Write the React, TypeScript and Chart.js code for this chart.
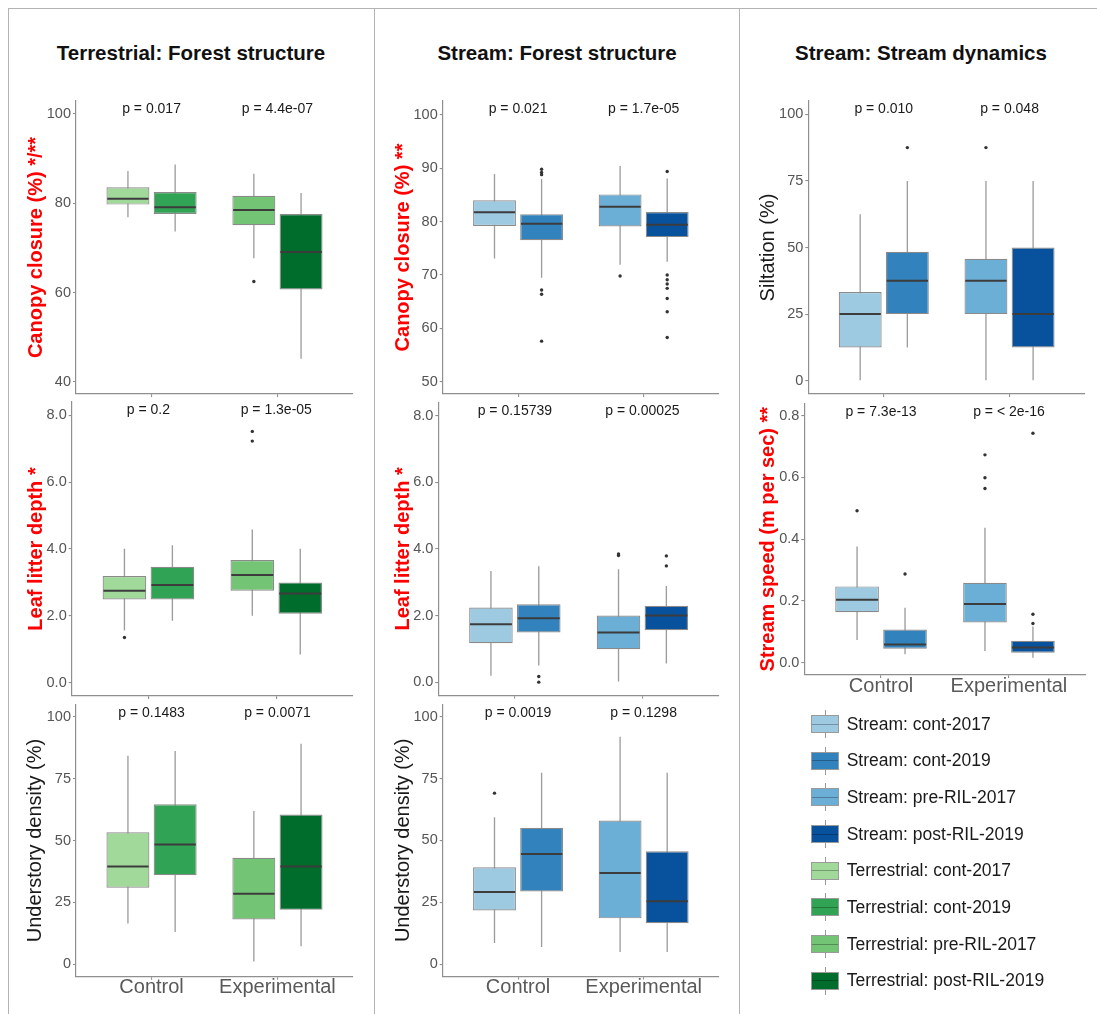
import React, { useEffect, useRef } from 'react';
import { Chart, registerables } from 'chart.js';

Chart.register(...registerables);

const FONT = '"Liberation Sans", Arial, Helvetica, sans-serif';
Chart.defaults.font.family = FONT;

// ---------------- DATA ----------------
const categories = ['Control', 'Experimental'];

// each row: [lower whisker, Q1, median, Q3, upper whisker] per category
const terrCanopyFirst = [[76.9, 79.7, 81.0, 83.6, 87.2], [67.7, 75.1, 78.5, 81.7, 86.6]];
const terrCanopySecond = [[73.7, 77.6, 79.1, 82.5, 88.7], [45.2, 60.7, 69.1, 77.6, 82.3]];
const terrCanopyFirstOut = [[], [62.5]];
const terrCanopySecondOut = [[], []];
const terrCanopyP = ['p = 0.017', 'p = 4.4e-07'];

const terrLitterFirst = [[1.56, 2.49, 2.75, 3.19, 4.01], [2.0, 2.75, 3.22, 3.67, 4.58]];
const terrLitterSecond = [[1.85, 2.49, 2.92, 3.47, 4.11], [0.84, 2.06, 2.67, 3.0, 4.01]];
const terrLitterFirstOut = [[1.35], [7.52, 7.23]];
const terrLitterSecondOut = [[], []];
const terrLitterP = ['p = 0.2', 'p = 1.3e-05'];

const terrUnderFirst = [[16.5, 30.9, 39.5, 53.3, 84.2], [1.1, 18.1, 28.5, 43.0, 61.9]];
const terrUnderSecond = [[13.1, 36.0, 48.4, 64.6, 86.1], [7.3, 22.0, 39.5, 60.5, 89.1]];
const terrUnderFirstOut = [[], []];
const terrUnderSecondOut = [[], []];
const terrUnderP = ['p = 0.1483', 'p = 0.0071'];

const streamCanopyFirst = [[73.1, 79.2, 81.75, 84.0, 88.9], [71.9, 79.1, 82.8, 85.1, 90.4]];
const streamCanopySecond = [[69.5, 76.5, 79.6, 81.4, 88.0], [72.5, 77.1, 79.4, 81.8, 88.1]];
const streamCanopyFirstOut = [[], [69.8]];
const streamCanopySecondOut = [[89.8, 89.2, 88.8, 67.2, 66.4, 57.6], [89.4, 70.0, 69.1, 68.3, 67.5, 65.6, 63.1, 58.3]];
const streamCanopyP = ['p = 0.021', 'p = 1.7e-05'];

const streamLitterFirst = [[0.19, 1.17, 1.74, 2.24, 3.34], [0.0, 0.99, 1.49, 2.0, 3.39]];
const streamLitterSecond = [[0.5, 1.49, 1.92, 2.34, 3.48], [0.56, 1.56, 2.0, 2.29, 2.89]];
const streamLitterFirstOut = [[], [3.85, 3.8]];
const streamLitterSecondOut = [[0.17, 0.0], [3.79, 3.49]];
const streamLitterP = ['p = 0.15739', 'p = 0.00025'];

const streamUnderFirst = [[8.5, 21.7, 29.1, 39.1, 59.4], [4.9, 18.5, 36.8, 58.0, 91.9]];
const streamUnderSecond = [[6.9, 29.4, 44.5, 55.1, 77.3], [4.9, 16.5, 25.4, 45.6, 77.3]];
const streamUnderFirstOut = [[69.1], []];
const streamUnderSecondOut = [[], []];
const streamUnderP = ['p = 0.0019', 'p = 0.1298'];

const siltFirst = [[0, 12.5, 25, 33.3, 62.5], [0, 25, 37.5, 45.8, 75]];
const siltSecond = [[12.5, 25, 37.5, 48.4, 75], [0, 12.5, 25, 50, 75]];
const siltFirstOut = [[], [87.5]];
const siltSecondOut = [[87.5], []];
const siltP = ['p = 0.010', 'p = 0.048'];

const speedFirst = [[0.073, 0.163, 0.204, 0.247, 0.376], [0.038, 0.13, 0.19, 0.259, 0.437]];
const speedSecond = [[0.027, 0.045, 0.059, 0.107, 0.178], [0.016, 0.032, 0.049, 0.071, 0.117]];
const speedFirstOut = [[0.492], [0.673, 0.599, 0.564]];
const speedSecondOut = [[0.287], [0.157, 0.127, 0.743]];
const speedP = ['p = 7.3e-13', 'p = < 2e-16'];

const ticksCanopyTerr = [40, 60, 80, 100];
const ticksCanopyStream = [50, 60, 70, 80, 90, 100];
const ticksLitter = [0, 2, 4, 6, 8];
const ticksPercent = [0, 25, 50, 75, 100];
const ticksSpeed = [0, 0.2, 0.4, 0.6, 0.8];

const terrColorsFirst = ['#a1d99b', '#74c476'];
const terrColorsSecond = ['#31a354', '#006d2c'];
const streamColorsFirst = ['#9ecae1', '#6baed6'];
const streamColorsSecond = ['#3182bd', '#08519c'];

const sectionTitles = ['Terrestrial: Forest structure', 'Stream: Forest structure', 'Stream: Stream dynamics'];

const legendLabels = [
  'Stream: cont-2017', 'Stream: cont-2019', 'Stream: pre-RIL-2017', 'Stream: post-RIL-2019',
  'Terrestrial: cont-2017', 'Terrestrial: cont-2019', 'Terrestrial: pre-RIL-2017', 'Terrestrial: post-RIL-2019',
];
const legendColors = ['#9ecae1', '#3182bd', '#6baed6', '#08519c', '#a1d99b', '#31a354', '#74c476', '#006d2c'];

// ---------------- STYLE ----------------
const CAT_PCT = 0.75;
const BOX_PCT = 0.91;
const WHISK_PCT = 0.028;
const DODGE = CAT_PCT / 4;
const AXIS = '#8f8f8f';
const BOX_BORDER = '#8a8a8a';
const WHISKER = '#9c9c9c';
const MEDIAN = '#3c3c3c';
const TICK_TXT = '#555555';

type Panel = {
  first: number[][]; second: number[][]; firstOut: number[][]; secondOut: number[][];
  cFirst: string[]; cSecond: string[]; pLabels: string[]; yTicks: number[]; dec: number;
  yMin: number; yMax: number; title: string; red: boolean; showX: boolean;
  rect: { left: number; right: number; top: number; bottom: number }; titleX: number;
};

const panels: Panel[] = [
  { first: terrCanopyFirst, second: terrCanopySecond, firstOut: terrCanopyFirstOut, secondOut: terrCanopySecondOut,
    cFirst: terrColorsFirst, cSecond: terrColorsSecond, pLabels: terrCanopyP, yTicks: ticksCanopyTerr, dec: 0,
    yMin: 37.3, yMax: 102.9, title: 'Canopy closure (%) */**', red: true, showX: false,
    rect: { left: 76, right: 353, top: 101, bottom: 394 }, titleX: 36 },
  { first: terrLitterFirst, second: terrLitterSecond, firstOut: terrLitterFirstOut, secondOut: terrLitterSecondOut,
    cFirst: terrColorsFirst, cSecond: terrColorsSecond, pLabels: terrLitterP, yTicks: ticksLitter, dec: 1,
    yMin: -0.4, yMax: 8.4, title: 'Leaf litter depth *', red: true, showX: false,
    rect: { left: 71.7, right: 353, top: 402, bottom: 696 }, titleX: 36 },
  { first: terrUnderFirst, second: terrUnderSecond, firstOut: terrUnderFirstOut, secondOut: terrUnderSecondOut,
    cFirst: terrColorsFirst, cSecond: terrColorsSecond, pLabels: terrUnderP, yTicks: ticksPercent, dec: 0,
    yMin: -5, yMax: 105, title: 'Understory density (%)', red: false, showX: true,
    rect: { left: 76, right: 353, top: 704.3, bottom: 976.7 }, titleX: 35 },
  { first: streamCanopyFirst, second: streamCanopySecond, firstOut: streamCanopyFirstOut, secondOut: streamCanopySecondOut,
    cFirst: streamColorsFirst, cSecond: streamColorsSecond, pLabels: streamCanopyP, yTicks: ticksCanopyStream, dec: 0,
    yMin: 47.7, yMax: 102.6, title: 'Canopy closure (%) **', red: true, showX: false,
    rect: { left: 442.7, right: 719, top: 101, bottom: 394 }, titleX: 403 },
  { first: streamLitterFirst, second: streamLitterSecond, firstOut: streamLitterFirstOut, secondOut: streamLitterSecondOut,
    cFirst: streamColorsFirst, cSecond: streamColorsSecond, pLabels: streamLitterP, yTicks: ticksLitter, dec: 1,
    yMin: -0.4, yMax: 8.4, title: 'Leaf litter depth *', red: true, showX: false,
    rect: { left: 438.3, right: 719, top: 402.3, bottom: 695.5 }, titleX: 403 },
  { first: streamUnderFirst, second: streamUnderSecond, firstOut: streamUnderFirstOut, secondOut: streamUnderSecondOut,
    cFirst: streamColorsFirst, cSecond: streamColorsSecond, pLabels: streamUnderP, yTicks: ticksPercent, dec: 0,
    yMin: -5, yMax: 105, title: 'Understory density (%)', red: false, showX: true,
    rect: { left: 442.7, right: 719, top: 704.3, bottom: 976.5 }, titleX: 403 },
  { first: siltFirst, second: siltSecond, firstOut: siltFirstOut, secondOut: siltSecondOut,
    cFirst: streamColorsFirst, cSecond: streamColorsSecond, pLabels: siltP, yTicks: ticksPercent, dec: 0,
    yMin: -5, yMax: 105, title: 'Siltation (%)', red: false, showX: false,
    rect: { left: 808.3, right: 1085, top: 101, bottom: 394 }, titleX: 768 },
  { first: speedFirst, second: speedSecond, firstOut: speedFirstOut, secondOut: speedSecondOut,
    cFirst: streamColorsFirst, cSecond: streamColorsSecond, pLabels: speedP, yTicks: ticksSpeed, dec: 1,
    yMin: -0.04, yMax: 0.84, title: 'Stream speed (m per sec) **', red: true, showX: true,
    rect: { left: 804.3, right: 1085.7, top: 403.3, bottom: 675 }, titleX: 768 },
];

// ---------------- PLUGIN: medians + p-values ----------------
const boxExtras = {
  id: 'boxExtras',
  afterDatasetsDraw(chart: any) {
    const ctx = chart.ctx;
    const y = chart.scales.y;
    ctx.save();
    ctx.strokeStyle = MEDIAN;
    ctx.lineWidth = 2;
    chart.data.datasets.forEach((ds: any, di: number) => {
      if (!ds.medians) return;
      const meta = chart.getDatasetMeta(di);
      meta.data.forEach((el: any, i: number) => {
        const { x, width } = el.getProps(['x', 'width'], true);
        const py = y.getPixelForValue(ds.medians[i]);
        ctx.beginPath();
        ctx.moveTo(x - width / 2 + 0.8, py);
        ctx.lineTo(x + width / 2 - 0.8, py);
        ctx.stroke();
      });
    });
    ctx.restore();
  },
  afterDraw(chart: any, _args: any, opts: any) {
    const ctx = chart.ctx;
    const xs = chart.scales.x;
    ctx.save();
    ctx.font = `14px ${FONT}`;
    ctx.fillStyle = '#1a1a1a';
    ctx.textAlign = 'center';
    ctx.textBaseline = 'middle';
    (opts.pLabels || []).forEach((t: string, i: number) => {
      ctx.fillText(t, xs.getPixelForValue(i + 1), chart.chartArea.top + 8.5);
    });
    ctx.restore();
  },
};

function geometry(p: Panel) {
  const H = p.showX ? 30 : 12;
  const cl = Math.floor(p.titleX - 20);
  const padLeft = p.titleX - 16 - cl;
  const W = p.rect.left - cl - padLeft;
  const top = Math.floor(p.rect.top - 12);
  const padTop = p.rect.top - top;
  const width = Math.ceil(p.rect.right + 4 - cl);
  const padRight = width - (p.rect.right - cl);
  const height = Math.ceil(p.rect.bottom - top + H + 2);
  const padBottom = height - (p.rect.bottom - top) - H;
  return { H, cl, padLeft, W, top, padTop, width, padRight, height, padBottom };
}

function BoxPanel({ p }: { p: Panel }) {
  const ref = useRef<HTMLCanvasElement>(null);
  const g = geometry(p);
  useEffect(() => {
    const boxSet = (rows: number[][], colors: string[], stack: string) => ({
      type: 'bar' as const,
      data: rows.map((r, i) => ({ x: i + 1, y: [r[1], r[3]] })),
      medians: rows.map((r) => r[2]),
      backgroundColor: colors,
      borderColor: BOX_BORDER,
      borderWidth: 1.2,
      borderSkipped: false,
      inflateAmount: 0,
      stack,
      order: 1,
      categoryPercentage: CAT_PCT,
      barPercentage: BOX_PCT,
    });
    const whiskSet = (rows: number[][], stack: string) => ({
      type: 'bar' as const,
      data: rows.map((r, i) => ({ x: i + 1, y: [r[0], r[4]] })),
      backgroundColor: WHISKER,
      borderWidth: 0,
      inflateAmount: 0,
      stack,
      order: 2,
      categoryPercentage: CAT_PCT,
      barPercentage: WHISK_PCT,
    });
    const outSet = (outs: number[][], shift: number) => ({
      type: 'scatter' as const,
      data: outs.flatMap((vals, i) => vals.map((v) => ({ x: i + 1 + shift, y: v }))),
      pointRadius: 1.7,
      pointBackgroundColor: '#333333',
      pointBorderWidth: 0,
      order: 0,
    });
    const gridOpts = {
      display: true, offset: false, drawOnChartArea: false, drawTicks: true,
      tickLength: 3, color: AXIS, tickColor: AXIS, lineWidth: 1.1,
    };
    const chart = new Chart(ref.current as HTMLCanvasElement, {
      type: 'bar',
      data: {
        datasets: [
          boxSet(p.first, p.cFirst, 'a'),
          boxSet(p.second, p.cSecond, 'b'),
          whiskSet(p.first, 'a'),
          whiskSet(p.second, 'b'),
          outSet(p.firstOut, -DODGE),
          outSet(p.secondOut, DODGE),
        ] as any,
      },
      options: {
        responsive: false,
        animation: false,
        devicePixelRatio: 1,
        events: [],
        layout: { padding: { left: g.padLeft, right: g.padRight, top: g.padTop, bottom: g.padBottom } },
        plugins: {
          legend: { display: false },
          tooltip: { enabled: false },
          boxExtras: { pLabels: p.pLabels },
        } as any,
        scales: {
          x: {
            type: 'linear',
            min: 0.4,
            max: 2.6,
            offset: false,
            grid: gridOpts,
            border: { display: true, color: AXIS, width: 1.2 },
            ticks: {
              autoSkip: false,
              maxRotation: 0,
              padding: -2,
              color: '#595959',
              font: { size: 20, family: FONT, lineHeight: 1 },
              callback: (_v: any, i: number) => (p.showX ? categories[i] : ''),
            },
            afterBuildTicks: (s: any) => { s.ticks = categories.map((_c, i) => ({ value: i + 1 })); },
            afterFit: (s: any) => { s.height = g.H; },
          },
          y: {
            type: 'linear',
            min: p.yMin,
            max: p.yMax,
            stacked: false,
            beginAtZero: false,
            grid: gridOpts,
            border: { display: true, color: AXIS, width: 1.2 },
            ticks: {
              padding: 2,
              color: TICK_TXT,
              font: { size: 14.5, family: FONT },
              callback: (v: any) => Number(v).toFixed(p.dec),
            },
            afterBuildTicks: (s: any) => { s.ticks = p.yTicks.map((v) => ({ value: v })); },
            afterFit: (s: any) => { s.width = g.W; },
            title: {
              display: true,
              text: p.title,
              color: p.red ? '#ff0000' : '#1a1a1a',
              font: { size: 20, family: FONT, weight: p.red ? 'bold' : 'normal' },
              padding: { top: 4, bottom: 4 },
            },
          },
        } as any,
      },
      plugins: [boxExtras as any],
    });
    return () => chart.destroy();
  }, []);
  return (
    <canvas
      ref={ref}
      width={g.width}
      height={g.height}
      style={{ position: 'absolute', left: g.cl, top: g.top, width: g.width, height: g.height }}
    />
  );
}

function LegendKey({ color }: { color: string }) {
  return (
    <div style={{ position: 'relative', width: 28, height: 30 }}>
      <div style={{ position: 'absolute', left: 13.5, top: 1, width: 1, height: 28, background: '#9a9a9a' }} />
      <div style={{ position: 'absolute', left: 0, top: 6, width: 28, height: 18, boxSizing: 'border-box', background: color, border: '1px solid #9a9a9a' }} />
      <div style={{ position: 'absolute', left: 1, top: 14.5, width: 26, height: 1, background: 'rgba(0,0,0,0.28)' }} />
    </div>
  );
}

const titleCenters = [191, 557, 921];

export default function App() {
  return (
    <div style={{ position: 'absolute', left: 0, top: 0, width: 1097, height: 1014, background: '#ffffff', overflow: 'hidden', fontFamily: FONT }}>
      <div style={{ position: 'absolute', left: 8, top: 8, width: 1089, height: 1, background: '#b3b3b3' }} />
      <div style={{ position: 'absolute', left: 8, top: 8, width: 1, height: 1006, background: '#b3b3b3' }} />
      <div style={{ position: 'absolute', left: 374, top: 8, width: 1, height: 1006, background: '#b3b3b3' }} />
      <div style={{ position: 'absolute', left: 739, top: 8, width: 1, height: 1006, background: '#b3b3b3' }} />
      {sectionTitles.map((t, i) => (
        <div key={t} style={{ position: 'absolute', left: titleCenters[i] - 180, width: 360, top: 41, height: 24, lineHeight: '24px', textAlign: 'center', fontWeight: 'bold', fontSize: 20.5, color: '#111' }}>
          {t}
        </div>
      ))}
      {panels.map((p, i) => <BoxPanel key={i} p={p} />)}
      {legendLabels.map((lab, i) => (
        <div key={lab} style={{ position: 'absolute', left: 811, top: 724 + i * 36.67 - 15, height: 30, display: 'flex', alignItems: 'center' }}>
          <LegendKey color={legendColors[i]} />
          <span style={{ marginLeft: 7.7, fontSize: 17.5, color: '#1a1a1a', whiteSpace: 'nowrap' }}>{lab}</span>
        </div>
      ))}
    </div>
  );
}
